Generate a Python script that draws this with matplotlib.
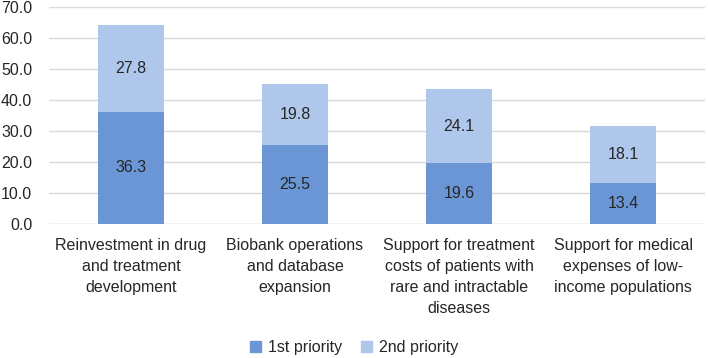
import numpy as np
import matplotlib
matplotlib.use("Agg")
import matplotlib.pyplot as plt
from matplotlib.patches import Patch

categories = ["Reinvestment in drug\nand treatment\ndevelopment",
              "Biobank operations\nand database\nexpansion",
              "Support for treatment\ncosts of patients with\nrare and intractable\ndiseases",
              "Support for medical\nexpenses of low-\nincome populations"]
first = [36.3, 25.5, 19.6, 13.4]
second = [27.8, 19.8, 24.1, 18.1]

c1 = "#6a96d6"
c2 = "#aec7ea"
txt = "#262626"

plt.rcParams['font.family'] = ['Liberation Sans', 'DejaVu Sans']

fig = plt.figure(figsize=(7.08, 3.58), dpi=100)
ax = fig.add_axes([0.069, 0.374, 0.927, 0.606])

x = np.arange(len(categories))
w = 0.4
ax.bar(x, first, w, color=c1, zorder=3)
ax.bar(x, second, w, bottom=first, color=c2, zorder=3)

for i in range(len(x)):
    ax.text(x[i], first[i] / 2, f"{first[i]:.1f}", ha="center", va="center",
            fontsize=11.5, color=txt, zorder=4)
    ax.text(x[i], first[i] + second[i] / 2, f"{second[i]:.1f}", ha="center",
            va="center", fontsize=11.5, color=txt, zorder=4)

ax.set_xlim(-0.5, len(x) - 0.5)
ax.set_ylim(0, 70)
ax.set_yticks(np.arange(0, 71, 10))
ax.set_yticklabels([f"{v:.1f}" for v in np.arange(0, 71, 10)], fontsize=11.5, color=txt)
ax.yaxis.grid(True, color="#d9d9d9", linewidth=1, zorder=0)
ax.set_xticks([])
ax.tick_params(axis="y", length=0, pad=12)
for s in ax.spines.values():
    s.set_visible(False)
ax.axhline(0, color="#d9d9d9", linewidth=1, zorder=1)

# wrapped category labels, centred under each bar
trans = matplotlib.transforms.blended_transform_factory(ax.transData, ax.transAxes)
for i, lab in enumerate(categories):
    ax.text(i, -0.065, lab, transform=trans, ha="center", va="top",
            multialignment="center", fontsize=11.5, color=txt, linespacing=1.5)

handles = [Patch(color=c1, label="1st priority"), Patch(color=c2, label="2nd priority")]
fig.legend(handles=handles, loc="center", bbox_to_anchor=(0.5, 0.028), ncol=2,
           frameon=False, fontsize=11.5, handlelength=0.7, handleheight=0.7,
           handletextpad=0.4, columnspacing=1.2, labelcolor=txt)

fig.savefig("out.png", dpi=100)
